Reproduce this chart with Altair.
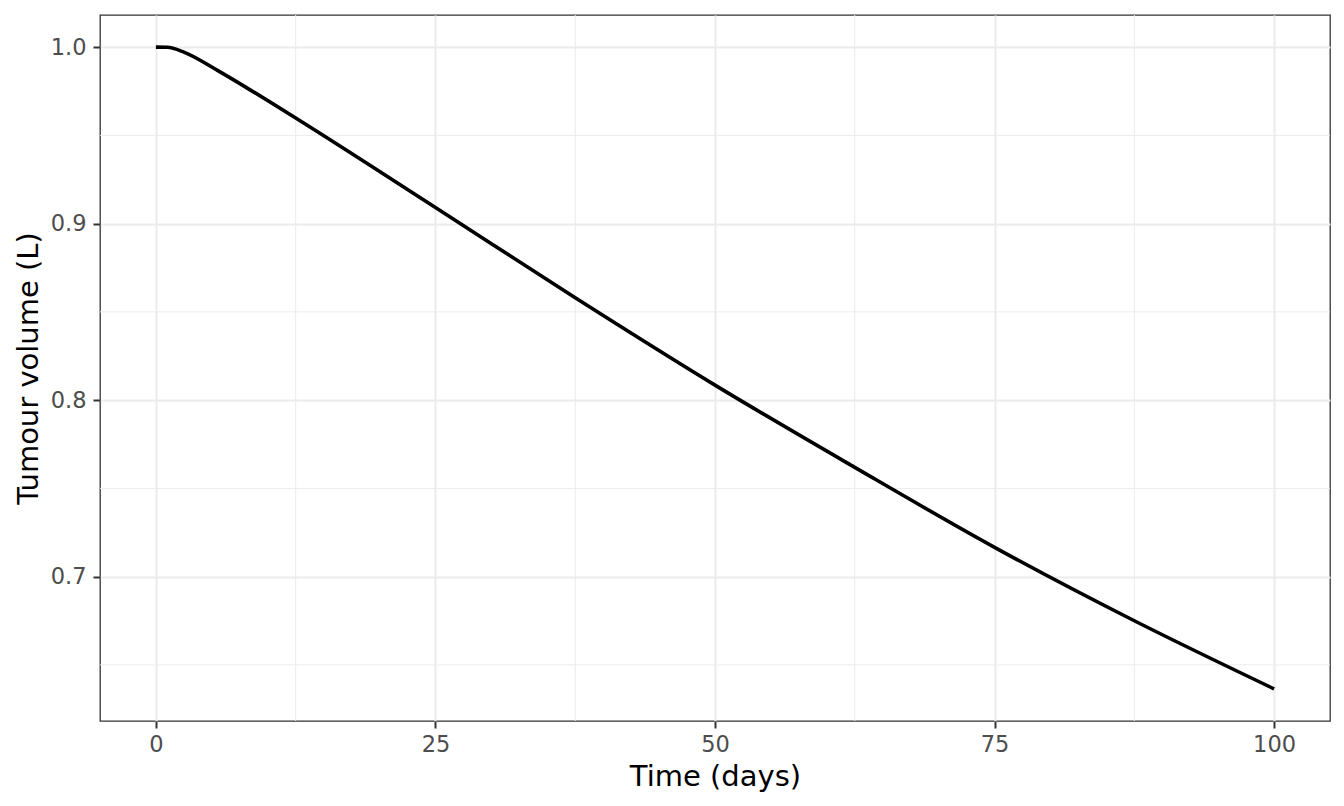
import altair as alt
import pandas as pd

# Values
time_days = [0, 1, 2.5, 5.5, 8.5, 12.5, 25, 37.5, 50, 62.5, 75, 87.5, 100]
volume_l = [1.0, 0.9999, 0.9972, 0.9868, 0.9755, 0.9598, 0.9091, 0.858,
            0.8085, 0.7619, 0.7166, 0.675, 0.6364]

x_major = [0, 25, 50, 75, 100]
y_major = [0.7, 0.8, 0.9, 1.0]
x_minor = [12.5, 37.5, 62.5, 87.5]
y_minor = [0.65, 0.75, 0.85, 0.95]

x_domain = [-5, 105]
y_domain = [0.6182, 1.0182]

df = pd.DataFrame({"time": time_days, "volume": volume_l})
dfx = pd.DataFrame({"time": x_minor})
dfy = pd.DataFrame({"volume": y_minor})

FONT = "DejaVu Sans"

xscale = alt.Scale(domain=x_domain, nice=False, zero=False)
yscale = alt.Scale(domain=y_domain, nice=False, zero=False)

xaxis = alt.Axis(
    title="Time (days)",
    values=x_major,
    format="d",
    grid=True,
    gridColor="#EBEBEB",
    gridWidth=2,
    domain=False,
    tickColor="#333333",
    tickWidth=2,
    tickSize=7,
    labelFont=FONT,
    labelFontSize=22.5,
    labelColor="#4D4D4D",
    labelPadding=5,
    titleFont=FONT,
    titleFontSize=29,
    titleFontWeight="normal",
    titleColor="black",
    titleBaseline="alphabetic",
    titleY=64,
)
yaxis = alt.Axis(
    title="Tumour volume (L)",
    values=y_major,
    format=".1f",
    grid=True,
    gridColor="#EBEBEB",
    gridWidth=2,
    domain=False,
    tickColor="#333333",
    tickWidth=2,
    tickSize=7,
    labelFont=FONT,
    labelFontSize=22.5,
    labelColor="#4D4D4D",
    labelPadding=7,
    titleFont=FONT,
    titleFontSize=29,
    titleFontWeight="normal",
    titleColor="black",
    titleBaseline="alphabetic",
    titleX=-63,
    titleAngle=270,
)

minor_x = alt.Chart(dfx).mark_rule(color="#EBEBEB", strokeWidth=1).encode(
    x=alt.X("time:Q", scale=xscale, axis=xaxis)
)
minor_y = alt.Chart(dfy).mark_rule(color="#EBEBEB", strokeWidth=1).encode(
    y=alt.Y("volume:Q", scale=yscale, axis=yaxis)
)

line = alt.Chart(df).mark_line(
    color="black", strokeWidth=3.6, interpolate="monotone", strokeCap="butt"
).encode(
    x=alt.X("time:Q", scale=xscale, axis=xaxis),
    y=alt.Y("volume:Q", scale=yscale, axis=yaxis),
)

chart = alt.layer(minor_x, minor_y, line).properties(
    width=1230,
    height=706,
    padding={"left": 92, "top": 7, "right": 6, "bottom": 77},
    autosize=alt.AutoSizeParams(type="none"),
    background="white",
).configure_view(stroke="#333333", strokeWidth=1.3)

chart.save("out.html", embed_options={"renderer": "svg", "actions": False})
